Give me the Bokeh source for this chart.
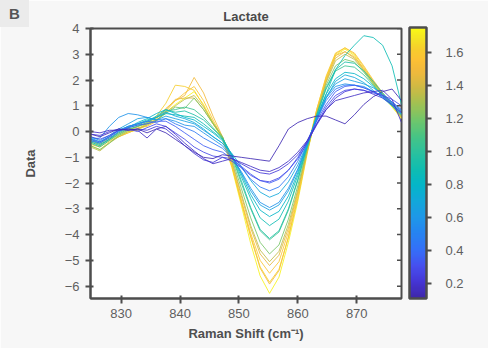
import numpy as np
from bokeh.plotting import figure
from bokeh.layouts import column
from bokeh.models import (ColumnDataSource, LinearColorMapper, ColorBar, FixedTicker,
                          PrintfTickFormatter, Div, Range1d)
from bokeh.transform import transform
from bokeh.embed import file_html
from bokeh.resources import INLINE

# ---------------- data ----------------
raman_shift = [824.8, 826.4, 828.0, 829.6, 831.2, 832.8, 834.4, 836.0, 837.6, 839.2,
               840.8, 842.4, 844.0, 845.6, 847.2, 848.8, 850.4, 852.0, 853.6, 855.2,
               856.8, 858.4, 860.0, 861.6, 863.2, 864.8, 866.4, 868.0, 869.6, 871.2,
               872.8, 874.4, 876.0, 877.6]

conc = [1.72, 1.50, 1.62, 1.45, 1.58, 1.35, 1.20, 1.05, 0.95, 0.88,
        0.80, 0.65, 0.58, 0.70, 0.45, 0.35, 0.28, 0.22, 0.18, 0.14]

s01 = [-0.45, -0.55, -0.30, -0.15, 0.00, 0.05, 0.25, 0.45, 0.75, 1.05, 1.30, 1.55, 1.05, 0.35, -0.30, -1.40, -2.85, -4.35, -5.60, -6.28, -5.65, -4.30, -2.70, -0.85, 0.75, 2.05, 2.95, 3.20, 2.95, 2.40, 1.85, 1.40, 0.95, 0.50]
s02 = [-0.35, -0.45, -0.25, -0.05, 0.10, 0.15, 0.20, 0.40, 0.80, 1.20, 1.40, 2.10, 1.50, 0.60, -0.20, -1.30, -2.70, -4.10, -5.30, -5.92, -5.40, -4.10, -2.60, -0.80, 0.80, 2.00, 2.95, 3.10, 2.90, 2.45, 1.95, 1.45, 1.00, 0.55]
s03 = [-0.55, -0.70, -0.40, -0.20, -0.05, 0.10, 0.30, 0.60, 1.10, 1.80, 1.75, 1.60, 1.00, 0.30, -0.25, -1.35, -2.75, -4.05, -5.25, -5.85, -5.35, -4.10, -2.50, -0.70, 0.85, 2.15, 3.05, 3.25, 3.00, 2.50, 1.95, 1.45, 1.00, 0.60]
s04 = [-0.40, -0.50, -0.30, -0.10, 0.05, 0.20, 0.35, 0.55, 0.85, 1.25, 1.30, 1.30, 0.85, 0.30, -0.20, -1.20, -2.50, -3.75, -4.75, -5.20, -4.80, -3.75, -2.35, -0.75, 0.70, 1.95, 2.85, 3.10, 2.85, 2.40, 1.90, 1.45, 1.05, 0.65]
s05 = [-0.50, -0.60, -0.35, -0.20, -0.05, 0.10, 0.30, 0.50, 0.90, 1.20, 1.50, 1.75, 1.20, 0.45, -0.25, -1.30, -2.65, -3.95, -5.00, -5.50, -5.05, -3.90, -2.40, -0.70, 0.85, 2.10, 3.00, 3.25, 3.05, 2.55, 2.00, 1.50, 1.05, 0.55]
s06 = [-0.60, -0.75, -0.45, -0.20, 0.00, 0.10, 0.25, 0.45, 0.75, 1.00, 1.25, 1.40, 0.95, 0.35, -0.20, -1.15, -2.40, -3.65, -4.60, -5.05, -4.65, -3.60, -2.25, -0.75, 0.70, 1.90, 2.75, 3.00, 2.80, 2.35, 1.90, 1.45, 1.00, 0.55]
s07 = [-0.55, -0.70, -0.45, -0.15, 0.05, 0.20, 0.30, 0.45, 0.70, 0.95, 0.90, 1.30, 0.85, 0.30, -0.20, -1.05, -2.20, -3.35, -4.30, -4.75, -4.40, -3.40, -2.10, -0.65, 0.65, 1.80, 2.55, 2.80, 2.70, 2.30, 1.85, 1.40, 1.00, 0.60]
s08 = [-0.45, -0.60, -0.35, -0.10, 0.10, 0.20, 0.35, 0.55, 0.80, 0.85, 0.95, 0.85, 0.55, 0.15, -0.25, -0.95, -2.00, -3.00, -3.85, -4.20, -3.90, -3.05, -1.90, -0.60, 0.60, 1.65, 2.35, 2.55, 2.50, 2.20, 1.80, 1.40, 1.00, 0.65]
s09 = [-0.35, -0.50, -0.30, -0.05, 0.15, 0.25, 0.40, 0.60, 0.85, 0.75, 0.80, 0.65, 0.45, 0.10, -0.25, -0.90, -1.90, -2.95, -3.80, -4.15, -3.85, -3.00, -1.85, -0.55, 0.65, 1.70, 2.40, 2.70, 2.65, 2.35, 1.95, 1.50, 1.10, 0.70]
s10 = [-0.30, -0.45, -0.20, 0.05, 0.20, 0.30, 0.45, 0.55, 0.70, 0.65, 0.60, 0.55, 0.30, 0.00, -0.30, -0.90, -1.75, -2.60, -3.35, -3.65, -3.40, -2.70, -1.70, -0.55, 0.55, 1.45, 2.40, 2.95, 3.35, 3.72, 3.65, 3.35, 2.55, 1.05]
s11 = [-0.40, -0.55, -0.30, 0.00, 0.15, 0.35, 0.50, 0.70, 0.85, 0.70, 0.55, 0.45, 0.20, -0.05, -0.35, -0.90, -1.65, -2.45, -3.05, -3.30, -3.10, -2.50, -1.60, -0.50, 0.55, 1.45, 2.05, 2.30, 2.25, 2.05, 1.75, 1.40, 1.05, 0.70]
s12 = [-0.20, -0.35, -0.15, 0.10, 0.30, 0.50, 0.55, 0.45, 0.60, 0.50, 0.40, 0.30, 0.05, -0.20, -0.45, -0.95, -1.60, -2.30, -2.85, -3.05, -2.85, -2.30, -1.50, -0.50, 0.50, 1.35, 1.85, 2.05, 1.95, 1.85, 1.70, 1.45, 1.15, 0.80]
s13 = [-0.30, -0.25, 0.20, 0.55, 0.70, 0.65, 0.55, 0.45, 0.50, 0.40, 0.25, 0.20, -0.05, -0.30, -0.55, -1.00, -1.55, -2.20, -2.75, -2.95, -2.75, -2.20, -1.45, -0.45, 0.50, 1.30, 1.75, 1.85, 1.80, 1.75, 1.55, 1.35, 1.10, 0.80]
s14 = [-0.25, -0.40, -0.20, 0.05, 0.20, 0.30, 0.40, 0.55, 0.75, 0.60, 0.50, 0.35, 0.10, -0.20, -0.45, -0.85, -1.35, -1.90, -2.35, -2.55, -2.40, -1.95, -1.30, -0.45, 0.45, 1.30, 1.95, 2.20, 2.10, 1.90, 1.60, 1.30, 1.00, 0.65]
s15 = [-0.35, -0.45, -0.25, 0.00, 0.20, 0.30, 0.40, 0.35, 0.50, 0.30, 0.15, 0.00, -0.25, -0.45, -0.65, -1.00, -1.40, -1.85, -2.15, -2.30, -2.15, -1.75, -1.15, -0.40, 0.45, 1.20, 1.65, 1.80, 1.80, 1.70, 1.55, 1.35, 1.05, 0.70]
s16 = [-0.30, -0.40, -0.20, 0.05, 0.15, 0.25, 0.30, 0.40, 0.40, 0.20, -0.05, -0.30, -0.55, -0.70, -0.80, -1.05, -1.35, -1.65, -1.90, -2.00, -1.85, -1.50, -1.00, -0.35, 0.40, 1.05, 1.55, 1.75, 1.80, 1.70, 1.55, 1.40, 1.15, 0.85]
s17 = [-0.20, -0.30, -0.15, 0.05, 0.10, 0.00, 0.15, 0.30, 0.20, -0.05, -0.30, -0.60, -0.80, -0.95, -1.00, -1.15, -1.40, -1.70, -1.90, -1.95, -1.80, -1.50, -1.05, -0.45, 0.30, 0.95, 1.40, 1.60, 1.65, 1.60, 1.50, 1.40, 1.25, 1.00]
s18 = [-0.10, -0.15, 0.00, 0.10, 0.05, 0.10, 0.05, 0.20, 0.10, -0.20, -0.55, -0.85, -1.10, -1.20, -1.00, -1.05, -1.25, -1.45, -1.60, -1.65, -1.50, -1.25, -0.90, -0.40, 0.25, 0.85, 1.30, 1.55, 1.65, 1.60, 1.45, 1.30, 1.05, 0.75]
s19 = [0.00, -0.05, 0.05, 0.05, 0.10, 0.05, -0.25, 0.10, 0.20, -0.10, -0.45, -0.75, -1.05, -1.25, -1.15, -1.05, -1.20, -1.35, -1.50, -1.55, -1.40, -1.15, -0.80, -0.35, 0.30, 0.85, 1.20, 1.30, 1.40, 1.50, 1.55, 1.60, 1.25, 0.35]
s20 = [-0.10, -0.20, -0.05, 0.10, 0.05, 0.10, -0.05, 0.10, -0.05, -0.30, -0.55, -0.80, -1.00, -1.05, -0.90, -0.95, -1.00, -1.05, -1.10, -1.15, -0.55, 0.10, 0.35, 0.50, 0.60, 0.60, 0.45, 0.30, 0.65, 1.05, 1.35, 1.55, 1.65, 1.20]

spectra = [s01, s02, s03, s04, s05, s06, s07, s08, s09, s10,
           s11, s12, s13, s14, s15, s16, s17, s18, s19, s20]
x_ticks = [830, 840, 850, 860, 870]
y_ticks = [-6, -5, -4, -3, -2, -1, 0, 1, 2, 3, 4]
cbar_ticks = [0.2, 0.4, 0.6, 0.8, 1.0, 1.2, 1.4, 1.6]
x_lo, x_hi = 824.8, 877.6
y_lo, y_hi = -6.48, 4.0

# ------------- parula-like palette -------------
anchors = [(0.00, "#3E26A8"), (0.06, "#4535D5"), (0.12, "#4650F0"), (0.18, "#3470F8"),
           (0.25, "#2487F0"), (0.30, "#1E98E8"), (0.36, "#12A8DA"), (0.42, "#04B6C8"),
           (0.48, "#10BDB0"), (0.54, "#2BC19E"), (0.60, "#48C484"), (0.66, "#72C66A"),
           (0.72, "#A2C152"), (0.78, "#CFB944"), (0.84, "#F1B93C"), (0.88, "#FCC035"),
           (0.92, "#F7CD2D"), (0.96, "#F4E324"), (1.00, "#F9FB15")]
ap = np.array([a[0] for a in anchors])
ac = np.array([[int(h[1:3], 16), int(h[3:5], 16), int(h[5:7], 16)] for _, h in anchors], float)
tt = np.linspace(0, 1, 256)
palette = ["#%02x%02x%02x" % tuple(int(round(np.interp(t, ap, ac[:, i]))) for i in range(3)) for t in tt]

FONT = "Liberation Sans"
DARK = "#4D4D4D"
TXT = "#5F5F5F"

mapper = LinearColorMapper(palette=palette, low=0.11, high=1.75)

p = figure(width=488, height=348, output_backend="svg", toolbar_location=None,
           x_range=Range1d(x_lo, x_hi), y_range=Range1d(y_lo, y_hi),
           min_border_left=90, min_border_right=87, min_border_top=28, min_border_bottom=50)
p.background_fill_color = "white"
p.border_fill_color = "#F7F7F7"
p.outline_line_color = DARK
p.outline_line_width = 2
p.grid.visible = False

p.title.text = "Lactate"
p.title.align = "center"
p.title.text_font = FONT
p.title.text_font_size = "13px"
p.title.text_font_style = "bold"
p.title.text_color = "#4A4A4A"

src = ColumnDataSource(dict(xs=[raman_shift] * len(spectra), ys=spectra, c=conc))
p.multi_line(xs="xs", ys="ys", source=src, line_color=transform("c", mapper),
             line_width=1, line_alpha=0.85)

# short inward tick marks on the right edge of the frame (half of each dash is clipped)
p.scatter(x=[x_hi] * len(y_ticks), y=y_ticks, marker="dash", size=9,
          line_color=DARK, line_width=1.5)

for ax in (p.xaxis[0], p.yaxis[0]):
    ax.axis_line_color = DARK
    ax.axis_line_width = 2
    ax.major_tick_line_color = DARK
    ax.major_tick_line_width = 2
    ax.major_tick_in = 3
    ax.major_tick_out = 5
    ax.minor_tick_line_color = None
    ax.major_label_text_font = FONT
    ax.major_label_text_font_size = "13px"
    ax.major_label_text_color = TXT
    ax.axis_label_text_font = FONT
    ax.axis_label_text_font_size = "13px"
    ax.axis_label_text_font_style = "bold"
    ax.axis_label_text_color = "#4F4F4F"

p.xaxis[0].ticker = FixedTicker(ticks=x_ticks)
p.yaxis[0].ticker = FixedTicker(ticks=y_ticks)
p.xaxis[0].axis_label = "Raman Shift (cm\u207b\u00b9)"
p.yaxis[0].axis_label = "Data"
p.xaxis[0].major_label_standoff = 5
p.xaxis[0].axis_label_standoff = 5
p.yaxis[0].major_label_standoff = 6
p.yaxis[0].axis_label_standoff = 24

cb = ColorBar(color_mapper=mapper, ticker=FixedTicker(ticks=cbar_ticks),
              formatter=PrintfTickFormatter(format="%.1f"),
              width=17, height=271, location=(8, 0), margin=0, padding=0,
              bar_line_color=DARK, bar_line_width=2.5,
              major_tick_out=5, major_tick_in=0, major_tick_line_color=DARK,
              major_tick_line_width=2, minor_tick_line_color=None,
              label_standoff=14, major_label_text_font=FONT,
              major_label_text_font_size="13px", major_label_text_color=TXT,
              background_fill_color=None, border_line_color=None)
p.add_layout(cb, "right")

badge = Div(text="B", width=29, height=27, margin=0,
            styles={"position": "absolute", "left": "0px", "top": "0px",
                    "margin": "0px", "padding": "0px", "box-sizing": "border-box",
                    "z-index": "10", "background-color": "#EBEBEB",
                    "color": "#555555", "font-family": "'Liberation Sans', Arial, sans-serif",
                    "font-size": "15px", "font-weight": "bold",
                    "text-align": "center", "line-height": "27px"})

root = column(p, badge, spacing=0)
open("out.html", "w").write(file_html(root, INLINE))
